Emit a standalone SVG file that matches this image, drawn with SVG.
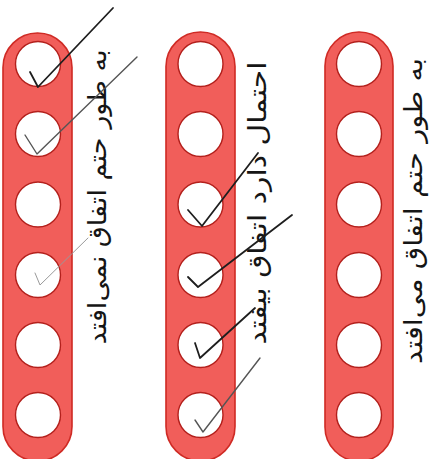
<svg xmlns="http://www.w3.org/2000/svg" width="436" height="459" viewBox="0 0 436 459">
<style>
.pill{fill:#f15e5a;stroke:#cf2a24;stroke-width:1.6}
.hole{fill:#ffffff;stroke:#b3201c;stroke-width:1.4}
.lbl{font-family:"DejaVu Sans","Noto Sans",sans-serif;font-size:25px;fill:#151515}
.chk{fill:none;stroke:#1e1e1e;stroke-width:1.8;stroke-linecap:round;stroke-linejoin:round}
.chk2{fill:none;stroke:#555;stroke-width:1.4;stroke-linecap:round;stroke-linejoin:round}
.chk3{fill:none;stroke:#9a9a9a;stroke-width:1;stroke-linecap:round;stroke-linejoin:round}
</style>
<rect width="436" height="459" fill="#ffffff"/>
<defs>
<g id="holes">
<circle cx="0" cy="64" r="22.5" class="hole"/>
<circle cx="0" cy="134" r="22.5" class="hole"/>
<circle cx="0" cy="204.5" r="22.5" class="hole"/>
<circle cx="0" cy="275" r="22.5" class="hole"/>
<circle cx="0" cy="345" r="22.5" class="hole"/>
<circle cx="0" cy="415" r="22.5" class="hole"/>
</g>
</defs>
<g id="bar-left">
<rect x="3" y="33" width="69" height="428" rx="34.5" class="pill"/>
<use href="#holes" x="38"/>
<text class="lbl" direction="rtl" text-anchor="middle" textLength="295" lengthAdjust="spacingAndGlyphs" transform="translate(106,197) rotate(-90)">به طور حتم اتفاق نمی&#x200C;افتد</text>
</g>
<g id="bar-middle">
<rect x="166" y="32" width="69" height="429" rx="34.5" class="pill"/>
<use href="#holes" x="200.5"/>
<text class="lbl" direction="rtl" text-anchor="middle" textLength="283" lengthAdjust="spacingAndGlyphs" transform="translate(266,203) rotate(-90)">احتمال دارد اتفاق بیفتد</text>
</g>
<g id="bar-right">
<rect x="325" y="32" width="68" height="429" rx="34" class="pill"/>
<use href="#holes" x="359"/>
<text class="lbl" direction="rtl" text-anchor="middle" textLength="306" lengthAdjust="spacingAndGlyphs" transform="translate(422,211) rotate(-90)">به طور حتم اتفاق می&#x200C;افتد</text>
</g>
<g id="checkmarks">
<path class="chk" d="M30,72 L38,87 L113,8"/>
<path class="chk2" d="M25,135 L37,154 L137,57"/>
<path class="chk3" d="M35,273 L40,285 L88,238"/>
<path class="chk" d="M188,210 L202,226 L258,153"/>
<path class="chk" d="M188,277 L198,287 L292,215"/>
<path class="chk" d="M195,343 L200,358 L255,308"/>
<path class="chk2" d="M195,420 L203,432 L260,358"/>
</g>
</svg>
